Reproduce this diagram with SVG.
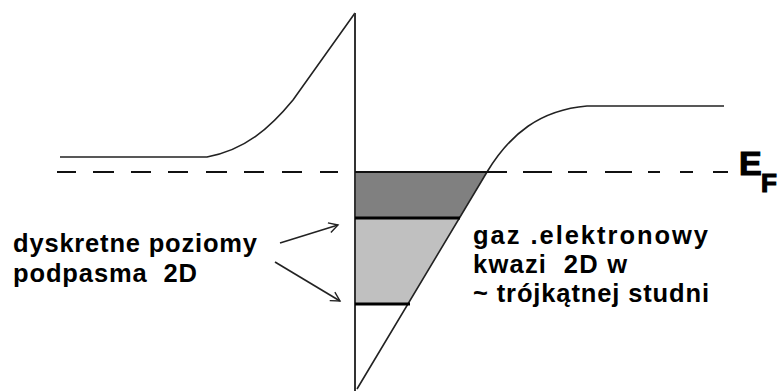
<svg xmlns="http://www.w3.org/2000/svg" width="780" height="391" viewBox="0 0 780 391">
<defs>
<style>
.t{font-family:"Liberation Sans",Arial,sans-serif;font-weight:bold;font-size:25.5px;fill:#000}
.ef{font-family:"Liberation Sans",Arial,sans-serif;font-weight:bold;fill:#000;stroke:#000;stroke-width:1.2}
.ln{fill:none;stroke:#222;stroke-width:1.6}
.dash{fill:none;stroke:#111;stroke-width:2}
.lvl{stroke:#000;stroke-width:3}
</style>
<marker id="ah" markerWidth="12" markerHeight="12" refX="10" refY="6" orient="auto" markerUnits="userSpaceOnUse">
<polyline points="1,1 10,6 1,11" fill="none" stroke="#222" stroke-width="1.4"/>
</marker>
</defs>
<rect width="780" height="391" fill="#fff"/>
<g id="well">
<polygon points="356,172 487,172 459.5,218 356,218" fill="#808080"/>
<polygon points="356,218 459.5,218 408,304 356,304" fill="#c0c0c0"/>
</g>
<g id="band-left">
<path class="ln" d="M60,157 H207 C245,150 270,128 293,100 L355,13"/>
</g>
<g id="band-right">
<path class="ln" d="M357,389 L487,172 C510,134 540,110 587,106 H724"/>
</g>
<g id="interface">
<line x1="355" y1="13" x2="355" y2="391" stroke="#333" stroke-width="2"/>
</g>
<g id="fermi">
<path class="dash" d="M57,172 H76 M93,172 H114 M131,172 H151 M168,172 H188 M206,172 H227 M244,172 H264 M282,172 H302 M320,172 H338"/>
<line x1="355" y1="172" x2="507" y2="172" stroke="#111" stroke-width="2"/>
<path class="dash" d="M523,172 H552 M568,172 H587 M605,172 H632 M648,172 H660 M680,172 H693 M713,172 H728"/>
<text class="ef" x="739" y="175" font-size="34">E</text>
<text class="ef" x="761" y="192" font-size="26">F</text>
</g>
<g id="levels">
<line class="lvl" x1="355" y1="218" x2="460" y2="218"/>
<line class="lvl" x1="355" y1="304" x2="410" y2="304"/>
</g>
<g id="label-left">
<text class="t" x="13" y="252" textLength="244" lengthAdjust="spacing">dyskretne poziomy</text>
<text class="t" x="13" y="282" textLength="184" lengthAdjust="spacing" xml:space="preserve">podpasma  2D</text>
</g>
<g id="label-right">
<text class="t" x="473" y="244" textLength="235" lengthAdjust="spacing">gaz .elektronowy</text>
<text class="t" x="473" y="273" textLength="154" lengthAdjust="spacing" xml:space="preserve">kwazi  2D w</text>
<text class="t" x="473" y="302" textLength="236" lengthAdjust="spacing">~ trójkątnej studni</text>
</g>
<g id="connectors">
<line class="ln" x1="280" y1="243" x2="338" y2="225" marker-end="url(#ah)"/>
<line class="ln" x1="275" y1="262" x2="340" y2="301" marker-end="url(#ah)"/>
</g>
</svg>
